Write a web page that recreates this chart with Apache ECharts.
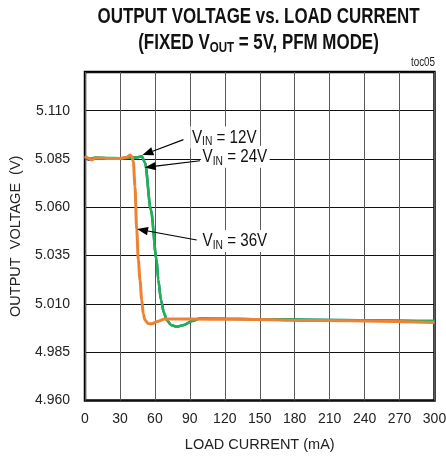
<!DOCTYPE html>
<html><head><meta charset="utf-8">
<script src="https://cdn.jsdelivr.net/npm/echarts@6/dist/echarts.min.js"></script>
<style>html,body{margin:0;padding:0;background:#fff}#c{width:446px;height:462px}</style>
</head><body><div id="c"></div>
<script>
// Load current (mA) and output voltage (V)
const vin12Current = [0, 3, 6, 9, 20, 30, 40, 45, 48.7, 51.5, 56.5, 61.5, 62.9, 65.2, 67.8, 70.1, 73.8, 78.7, 85, 91.8, 98.7, 120, 150, 210, 300];
const vin12Voltage = [5.0858, 5.0846, 5.0849, 5.0855, 5.0854, 5.0854, 5.0856, 5.0858, 5.0864, 5.0831, 5.0587, 5.0328, 5.0224, 5.0120, 5.0053, 5.0017, 4.9991, 4.9982, 4.9991, 5.0011, 5.0024, 5.0023, 5.0021, 5.0017, 5.0011];
const vin24Current = [0, 4.3, 8.6, 20, 30, 43, 48.7, 51.5, 56.5, 61.5, 62.9, 65.2, 67.8, 70.1, 73.8, 78.7, 85, 91.8, 98.7, 120, 150, 210, 300];
const vin24Voltage = [5.0862, 5.0852, 5.0857, 5.0855, 5.0854, 5.0857, 5.0864, 5.0831, 5.0587, 5.0328, 5.0224, 5.0120, 5.0053, 5.0017, 4.9991, 4.9982, 4.9991, 5.0011, 5.0024, 5.0023, 5.0021, 5.0017, 5.0011];
const vin36Current = [0, 2.6, 5.8, 8.6, 21.5, 30, 36, 38.6, 40.3, 41.5, 42.9, 44.4, 45.8, 47.2, 48.7, 50, 51.5, 54.3, 57.5, 61.5, 68.7, 87.3, 133, 200, 300];
const vin36Voltage = [5.0865, 5.0854, 5.0844, 5.0855, 5.0853, 5.0853, 5.0859, 5.0870, 5.0862, 5.0836, 5.0708, 5.0483, 5.0328, 5.0224, 5.0120, 5.0048, 5.0017, 4.9998, 4.9997, 5.0008, 5.0022, 5.0022, 5.0020, 5.0014, 5.0004];
const xTicks = [0, 30, 60, 90, 120, 150, 180, 210, 240, 270, 300];
const yTickLabels = ['4.960', '4.985', '5.010', '5.035', '5.060', '5.085', '5.110'];
const yMin = 4.960, yMax = 5.130, yStep = 0.025;
// annotation labels: [text, current at label left edge, voltage at label middle]
const annoLabels = [['12V', 90.4, 5.0961], ['24V', 99.5, 5.0861], ['36V', 99.5, 5.0425]];
// annotation arrows: [fromCurrent, fromVoltage, toCurrent, toVoltage]
const annoArrows = [[84.5, 5.0950, 49.3, 5.0870], [98.7, 5.0841, 51.3, 5.0806], [95.9, 5.0431, 44.6, 5.0487]];

const FONT = "'Liberation Sans',Arial,sans-serif";
const NARROW = 0.82;
const off = v => +(v - yMin).toFixed(5);
const pairs = (xs, ys) => xs.map((x, i) => [x, off(ys[i])]);

const mctx = document.createElement('canvas').getContext('2d');
function textW(font, s) { mctx.font = font; return mctx.measureText(s).width; }
const TITLE1 = 'OUTPUT VOLTAGE vs. LOAD CURRENT';
const titleFont = 'bold 22px ' + FONT;
const titleScale = 322 / textW(titleFont, TITLE1);

const chart = echarts.init(document.getElementById('c'), null, {renderer: 'canvas'});
const axisFont = {fontFamily: FONT, fontSize: 14, color: '#222'};
chart.setOption({
  animation: false,
  backgroundColor: '#fff',
  grid: {left: 85, right: 11.5, top: 72, bottom: 61.5, outerBoundsMode: 'none', containLabel: false,
    show: true, borderColor: '#000', borderWidth: 2.5, backgroundColor: 'transparent'},
  xAxis: {
    type: 'value', min: xTicks[0], max: xTicks[xTicks.length - 1], interval: 30,
    name: 'LOAD CURRENT (mA)', nameLocation: 'middle', nameGap: 37,
    nameTextStyle: Object.assign({}, axisFont, {fontSize: 14.5}),
    axisLine: {show: false}, axisTick: {show: false},
    axisLabel: Object.assign({margin: 12, showMaxLabel: true, showMinLabel: true}, axisFont),
    splitLine: {show: true, lineStyle: {color: '#5a5a5a', width: 1}}
  },
  yAxis: {
    type: 'value', min: 0, max: +(yMax - yMin).toFixed(3), interval: yStep,
    name: 'OUTPUT  VOLTAGE  (V)', nameLocation: 'middle', nameGap: 62, nameRotate: 90,
    nameTextStyle: Object.assign({}, axisFont, {fontSize: 14.5}),
    axisLine: {show: false}, axisTick: {show: false},
    axisLabel: Object.assign({margin: 15, showMaxLabel: false,
      formatter: v => { const i = Math.round(v / yStep); return (Math.abs(v - i * yStep) < 1e-6 && yTickLabels[i]) ? yTickLabels[i] : ''; }}, axisFont),
    splitLine: {show: true, lineStyle: {color: '#111', width: 1}}
  },
  series: [
    {type: 'line', name: 'VIN=12V', data: pairs(vin12Current, vin12Voltage), showSymbol: false, smooth: 0.3, smoothMonotone: 'x',
      lineStyle: {color: '#2b5ba8', width: 2.5}, z: 3},
    {type: 'line', name: 'VIN=24V', data: pairs(vin24Current, vin24Voltage), showSymbol: false, smooth: 0.3, smoothMonotone: 'x',
      lineStyle: {color: '#1db350', width: 2.5}, z: 4},
    {type: 'line', name: 'VIN=36V', data: pairs(vin36Current, vin36Voltage), showSymbol: false, smooth: 0.3, smoothMonotone: 'x',
      lineStyle: {color: '#ec8234', width: 3}, z: 5}
  ]
});

const graphics = [
  {type: 'text', x: 258.5, y: 17, scaleX: titleScale, z: 100,
    style: {text: TITLE1, font: titleFont, fill: '#111', align: 'center', verticalAlign: 'middle'}},
  {type: 'text', x: 258.5, y: 43, scaleX: titleScale, z: 100, style: {
    text: '{a|(FIXED V}{s|OUT}{a| = 5V, PFM MODE)}', align: 'center', verticalAlign: 'middle',
    rich: {a: {font: titleFont, fill: '#111'}, s: {font: 'bold 15px ' + FONT, fill: '#111', padding: [9, 0, 0, 0]}}
  }},
  {type: 'text', x: 435, y: 63, scaleX: NARROW, z: 100,
    style: {text: 'toc05', font: '12px ' + FONT, fill: '#222', align: 'right', verticalAlign: 'middle'}}
];
// arrows: line + filled triangular head, positioned through the chart's own scales
const HEAD_LEN = 11, HEAD_HALF = 4.2;
annoArrows.forEach(a => {
  const p1 = chart.convertToPixel({gridIndex: 0}, [a[0], off(a[1])]);
  const p2 = chart.convertToPixel({gridIndex: 0}, [a[2], off(a[3])]);
  const dx = p2[0] - p1[0], dy = p2[1] - p1[1], L = Math.hypot(dx, dy);
  const ux = dx / L, uy = dy / L;
  const bx = p2[0] - ux * HEAD_LEN, by = p2[1] - uy * HEAD_LEN;
  graphics.push({type: 'line', z: 90, shape: {x1: p1[0], y1: p1[1], x2: bx, y2: by}, style: {stroke: '#000', lineWidth: 1.1}});
  graphics.push({type: 'polygon', z: 90, shape: {points: [[p2[0], p2[1]], [bx - uy * HEAD_HALF, by + ux * HEAD_HALF], [bx + uy * HEAD_HALF, by - ux * HEAD_HALF]]}, style: {fill: '#000'}});
});
annoLabels.forEach(l => {
  const p = chart.convertToPixel({gridIndex: 0}, [l[1], off(l[2])]);
  graphics.push({type: 'text', x: p[0], y: p[1], scaleX: NARROW, z: 100, style: {
    text: '{a|V}{s|IN}{a| = ' + l[0] + '}', align: 'left', verticalAlign: 'middle',
    backgroundColor: '#fff', padding: [0, 3, 0, 2],
    rich: {a: {font: '18.5px ' + FONT, fill: '#111'}, s: {font: '12.5px ' + FONT, fill: '#111', padding: [9, 0, 0, 0]}}
  }});
});
chart.setOption({graphic: graphics});
</script></body></html>
